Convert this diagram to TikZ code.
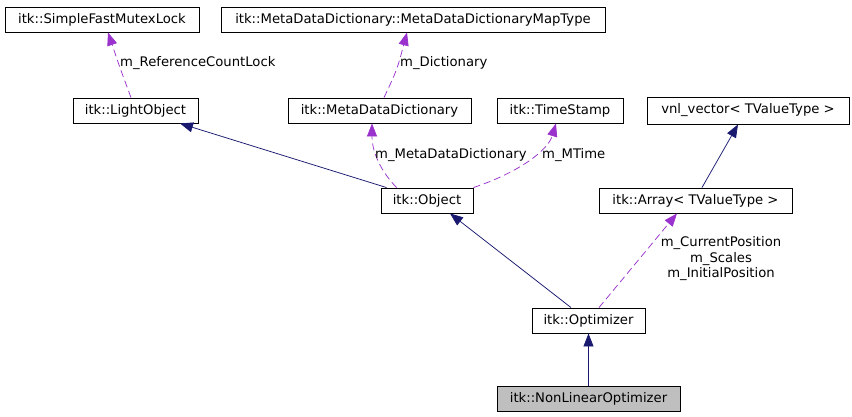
\documentclass[tikz,border=0pt]{standalone}
\usepackage{fontspec}
\setmainfont{DejaVu Sans}
\usetikzlibrary{arrows.meta,calc}
\definecolor{inh}{HTML}{191970}
\definecolor{use}{HTML}{9A32CD}
\definecolor{curfill}{HTML}{BFBFBF}
\begin{document}
\begin{tikzpicture}[x=1pt,y=-1pt,
  font=\fontsize{13.2}{15.5}\selectfont,
  cls/.style={draw=black,line width=0.9pt,inner sep=0pt,minimum height=25pt,anchor=center},
  inhedge/.style={draw=inh,line width=0.75pt,-{Triangle[length=13pt,width=10pt]}},
  useedge/.style={draw=use,line width=0.75pt,dash pattern=on 7pt off 4pt,-{Triangle[length=13pt,width=10pt,fill=use]}},
  lbl/.style={inner sep=0pt,anchor=west}]
\useasboundingbox (0,0) rectangle (852,416);
\node[cls,minimum width=194pt] (sfml) at (102,19.5) {itk::SimpleFastMutexLock};
\node[cls,minimum width=384pt] (mapt) at (413,19.5) {itk::MetaDataDictionary::MetaDataDictionaryMapType};
\node[cls,minimum width=125pt] (light) at (135.5,110.5) {itk::LightObject};
\node[cls,minimum width=183pt] (mdd) at (379.5,110.5) {itk::MetaDataDictionary};
\node[cls,minimum width=126pt] (ts) at (560,110.5) {itk::TimeStamp};
\node[cls,minimum width=202pt,minimum height=27pt] (vnl) at (748,110.5) {vnl\_vector< TValueType >};
\node[cls,minimum width=92pt] (obj) at (427,200.5) {itk::Object};
\node[cls,minimum width=193pt] (arr) at (695.5,200.5) {itk::Array< TValueType >};
\node[cls,minimum width=113pt] (opt) at (588.5,320.5) {itk::Optimizer};
\node[cls,minimum width=183pt,fill=curfill] (nlo) at (588.5,398.5) {itk::NonLinearOptimizer};

% usage edges
\draw[useedge] ($(light.north)+(-4.5,0)$) .. controls (120,68) .. ($(sfml.south)+(6,0)$);
\draw[useedge] ($(mdd.north)+(4.5,0)$) .. controls (397,70) .. ($(mapt.south)+(-6,0)$);
\draw[useedge] ($(obj.north west)+(16,0)$) .. controls (375,165) and (372,145) .. ($(mdd.south)+(-7.5,0)$);
\draw[useedge] (obj.north east) .. controls (520,172) and (548,150) .. ($(ts.south)+(-4,0)$);
\draw[useedge] ($(opt.north)+(10.5,0)$) -- ($(arr.south)+(-18.5,0)$);

% inheritance edges
\draw[inhedge] ($(obj.north west)+(6,0)$) -- ($(light.south)+(44.5,0)$);
\draw[inhedge] ($(opt.north)+(-17.5,0)$) -- ($(obj.south)+(23,0)$);
\draw[inhedge] ($(arr.north)+(6.5,0)$) -- ($(vnl.south)+(-10,0)$);
\draw[inhedge] (nlo.north) -- (opt.south);

% labels
\node[lbl] (l1) at (120,63) {m\_ReferenceCountLock};
\node[lbl] (l2) at (400,63) {m\_Dictionary};
\node[lbl] (l3) at (375,155) {m\_MetaDataDictionary};
\node[lbl] (l4) at (542,155) {m\_MTime};
\node[inner sep=0pt,align=center] (l5) at (721,259) {m\_CurrentPosition\\m\_Scales\\m\_InitialPosition};
\end{tikzpicture}
\end{document}
